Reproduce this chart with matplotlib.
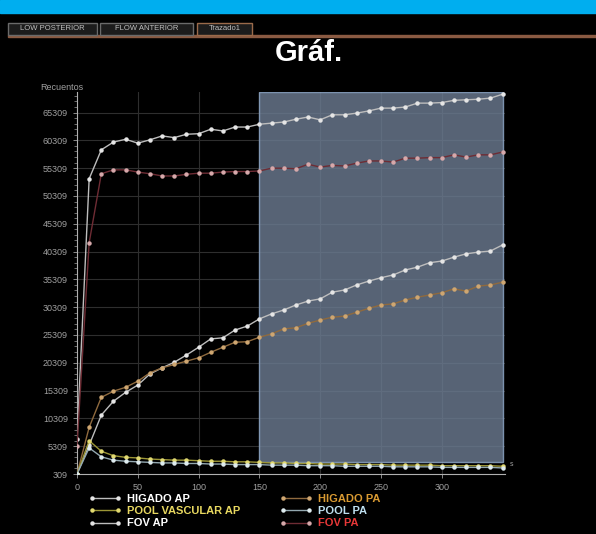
import matplotlib.pyplot as plt
from matplotlib.patches import Rectangle

# Tiempo (s)
t = [0, 10, 20, 30, 40, 50, 60, 70, 80, 90, 100, 110, 120, 130, 140, 150, 160, 170,
     180, 190, 200, 210, 220, 230, 240, 250, 260, 270, 280, 290, 300, 310, 320, 330,
     340, 350]

# Recuentos por serie
higado_ap = [309, 5500, 10900, 13400, 15000, 16300, 18300, 19400, 20400, 21700, 23100,
             24600, 24800, 26200, 26900, 28200, 29100, 29800, 30700, 31400, 31800, 33000,
             33400, 34300, 35000, 35600, 36100, 37000, 37500, 38300, 38600, 39300, 39900,
             40200, 40400, 41500]
higado_pa = [309, 8700, 14100, 15200, 15900, 17000, 18500, 19400, 20000, 20600, 21200,
             22200, 23100, 24000, 24100, 24900, 25500, 26400, 26600, 27400, 28000, 28500,
             28700, 29400, 30100, 30700, 30900, 31600, 32100, 32500, 32900, 33600, 33200,
             34100, 34300, 34800]
pool_vasc_ap = [309, 6300, 4400, 3600, 3300, 3200, 3000, 2900, 2800, 2800, 2700, 2600,
                2600, 2500, 2500, 2400, 2300, 2300, 2200, 2200, 2100, 2100, 2100, 2000,
                2000, 2000, 1900, 1900, 1900, 1900, 1800, 1800, 1800, 1800, 1800, 1700]
pool_pa = [309, 5000, 3400, 2800, 2600, 2500, 2400, 2300, 2300, 2200, 2200, 2100, 2100,
           2000, 2000, 2000, 1900, 1900, 1900, 1800, 1800, 1800, 1700, 1700, 1700, 1700,
           1600, 1600, 1600, 1600, 1500, 1500, 1500, 1500, 1500, 1400]
fov_ap = [6600, 53400, 58600, 60000, 60500, 59800, 60400, 61100, 60800, 61400, 61500,
          62300, 62000, 62700, 62700, 63200, 63400, 63600, 64100, 64500, 64000, 64900,
          64900, 65200, 65600, 66100, 66100, 66300, 67000, 67000, 67100, 67500, 67600,
          67700, 67900, 68600]
fov_pa = [5300, 41900, 54300, 55000, 55000, 54600, 54300, 53900, 53900, 54200, 54400,
          54400, 54600, 54700, 54700, 54800, 55300, 55300, 55200, 56000, 55500, 55800,
          55700, 56200, 56600, 56600, 56400, 57100, 57100, 57200, 57200, 57700, 57300,
          57700, 57700, 58200]

yticks = [309, 5309, 10309, 15309, 20309, 25309, 30309, 35309, 40309, 45309, 50309,
          55309, 60309, 65309]
xticks = [0, 50, 100, 150, 200, 250, 300]

# nombre, datos, color linea, color punto, color texto leyenda
series = [
    ("HIGADO AP", higado_ap, "#bdbdbd", "#e6e6e6", "#ffffff"),
    ("HIGADO PA", higado_pa, "#8f6a3e", "#cfa772", "#d99a32"),
    ("POOL VASCULAR AP", pool_vasc_ap, "#9c9636", "#e2da72", "#e8d860"),
    ("POOL PA", pool_pa, "#93a8b0", "#dfecef", "#bfe0f0"),
    ("FOV AP", fov_ap, "#bdbdbd", "#e6e6e6", "#ffffff"),
    ("FOV PA", fov_pa, "#6e2c34", "#d7a9ab", "#e83838"),
]

fig = plt.figure(figsize=(5.96, 5.34), dpi=100, facecolor="black")

# barra superior y pestañas
fig.patches.append(Rectangle((0, 1 - 13 / 534), 1, 13 / 534, transform=fig.transFigure,
                             color="#00aeef", zorder=0))
fig.patches.append(Rectangle((8 / 596, 1 - 37 / 534), 1, 2.5 / 534, transform=fig.transFigure,
                             color="#8a5a42", zorder=1))
tabs = [("LOW POSTERIOR", 8, 97, "#6a6a6a"), ("FLOW ANTERIOR", 100, 193, "#6a6a6a"),
        ("Trazado1", 197, 252, "#9a6a4a")]
for txt, x0, x1, ec in tabs:
    fig.patches.append(Rectangle((x0 / 596, 1 - 35 / 534), (x1 - x0) / 596, 12 / 534,
                                 transform=fig.transFigure, facecolor="#1c1c1c",
                                 edgecolor=ec, lw=1, zorder=1))
    fig.text((x0 + x1) / 2 / 596, 1 - 29 / 534, txt, color="#c0c0c0", fontsize=5.5,
             ha="center", va="center", family="Liberation Sans")

fig.text(309 / 596, 1 - 53 / 534, "Gráf.", color="white", fontsize=21, fontweight="bold",
         ha="center", va="center", family="Liberation Sans")
fig.text(40 / 596, 1 - 88 / 534, "Recuentos", color="#a0a0a0", fontsize=6.5,
         ha="left", va="center", family="Liberation Sans")

ax = fig.add_axes([77 / 596, 1 - 474 / 534, 428 / 596, 382 / 534])
ax.set_facecolor("black")
ax.set_xlim(0, 352)
ax.set_ylim(309, 69000)

ax.add_patch(Rectangle((150, 2450), 200, 69000 - 2450, facecolor="#6b7a90", alpha=0.82,
                       edgecolor="#8fa8c8", lw=1, zorder=1))

for name, vals, lc, mc, tc in series:
    ax.plot(t, vals, color=lc, lw=1.0, marker="o", ms=2.2, mfc=mc, mec=mc,
            label=name, zorder=3)

ax.set_xticks(xticks)
ax.set_yticks(yticks)
ax.set_yticklabels([str(v) for v in yticks])
ax.grid(True, color="#2e2e2e", lw=0.8, zorder=0)
ax.set_axisbelow(True)
ax.tick_params(colors="#a0a0a0", labelsize=6.5, length=3, width=0.6)
ax.minorticks_on()
ax.tick_params(which="minor", length=2, color="#808080")
ax.tick_params(axis="x", which="minor", bottom=False)
for lab in ax.get_xticklabels() + ax.get_yticklabels():
    lab.set_family("Liberation Sans")
for s in ["top", "right"]:
    ax.spines[s].set_visible(False)
for s in ["left", "bottom"]:
    ax.spines[s].set_color("#b0b0b0")
    ax.spines[s].set_linewidth(0.8)
ax.text(1.01, 0.02, "s", transform=ax.transAxes, color="#a0a0a0", fontsize=5)

# leyenda: columna izquierda AP, derecha PA
handles, labels = ax.get_legend_handles_labels()
order = [0, 2, 4, 1, 3, 5]
leg = ax.legend([handles[i] for i in order], [labels[i] for i in order],
                loc="upper left", bbox_to_anchor=(89 / 596, 1 - 494 / 534),
                bbox_transform=fig.transFigure, ncol=2, frameon=False, numpoints=2,
                borderpad=0, borderaxespad=0, handlelength=2.9, handletextpad=0.5,
                columnspacing=3.6, labelspacing=0.2,
                prop={"family": "Liberation Sans", "weight": "bold", "size": 8})
for i, txt in zip(order, leg.get_texts()):
    txt.set_color(series[i][4])

fig.savefig("out.png", dpi=100, facecolor="black")
